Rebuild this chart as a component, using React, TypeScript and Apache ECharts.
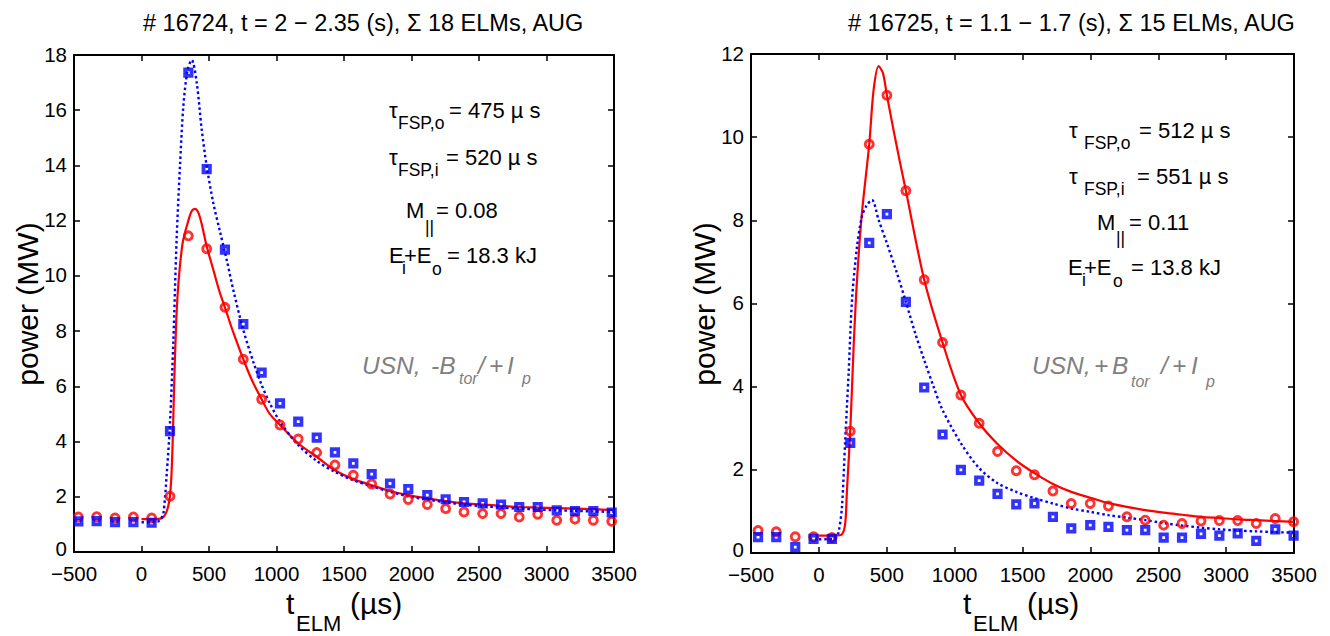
import React, { useEffect, useRef } from "react";
import * as echarts from "echarts";

// ---------- data ----------
const leftTimes = [-468, -332, -196, -60, 75, 211, 347, 483, 618, 754, 890, 1026, 1161, 1298, 1433, 1569, 1705, 1841, 1976, 2117, 2253, 2389, 2527, 2663, 2798, 2935, 3076, 3211, 3347, 3483];
const leftRedPts = [1.27, 1.28, 1.23, 1.27, 1.23, 2.02, 11.45, 10.98, 8.86, 6.98, 5.53, 4.6, 4.09, 3.6, 3.15, 2.78, 2.46, 2.1, 1.9, 1.72, 1.57, 1.45, 1.39, 1.39, 1.27, 1.37, 1.15, 1.19, 1.15, 1.11];
const leftBluePts = [1.11, 1.12, 1.08, 1.08, 1.06, 4.38, 17.36, 13.87, 10.95, 8.25, 6.5, 5.38, 4.72, 4.14, 3.61, 3.21, 2.82, 2.48, 2.28, 2.06, 1.91, 1.81, 1.76, 1.72, 1.63, 1.63, 1.51, 1.48, 1.48, 1.43];

const leftRedFitT = [0, 60, 120, 150, 175, 195, 210, 222, 231, 241, 256, 273, 305, 347, 372, 396, 420, 445, 483, 532, 581, 618, 680, 754, 820, 890, 950, 1026, 1161, 1298, 1433, 1569, 1705, 1841, 1976, 2117, 2253, 2389, 2527, 2663, 2798, 2935, 3076, 3211, 3347, 3500];
const leftRedFitV = [1.19, 1.19, 1.2, 1.22, 1.35, 1.6, 2.0, 2.8, 4.0, 5.9, 8.2, 9.7, 11.2, 12.0, 12.35, 12.43, 12.3, 11.9, 11.07, 10.22, 9.38, 8.86, 7.95, 6.98, 6.2, 5.53, 5.0, 4.6, 3.93, 3.45, 2.96, 2.64, 2.42, 2.21, 2.06, 1.94, 1.84, 1.76, 1.72, 1.67, 1.63, 1.61, 1.59, 1.57, 1.55, 1.52];

const leftBlueFitT = [0, 60, 120, 140, 162, 187, 211, 236, 260, 285, 310, 342, 372, 409, 446, 483, 532, 581, 631, 680, 754, 828, 890, 951, 1026, 1161, 1298, 1433, 1569, 1705, 1841, 1976, 2117, 2253, 2389, 2527, 2663, 2798, 2935, 3076, 3211, 3347, 3500];
const leftBlueFitV = [1.08, 1.08, 1.1, 1.18, 1.39, 2.84, 4.66, 7.68, 11.31, 13.97, 16.15, 17.48, 17.82, 17.0, 15.3, 13.97, 12.64, 11.61, 10.58, 9.49, 8.04, 6.89, 6.05, 5.38, 4.72, 3.87, 3.3, 2.9, 2.6, 2.38, 2.18, 2.02, 1.9, 1.8, 1.72, 1.66, 1.61, 1.57, 1.54, 1.51, 1.49, 1.47, 1.45];

const rightTimes = [-448, -314, -174, -39, 96, 231, 371, 501, 641, 776, 911, 1046, 1181, 1316, 1454, 1588, 1724, 1859, 1999, 2133, 2269, 2404, 2540, 2675, 2815, 2950, 3085, 3222, 3362, 3497];
const rightRedPts = [0.54, 0.51, 0.39, 0.39, 0.37, 2.93, 9.83, 11.01, 8.71, 6.57, 5.06, 3.8, 3.12, 2.44, 1.98, 1.88, 1.49, 1.19, 1.19, 1.13, 0.87, 0.79, 0.67, 0.71, 0.77, 0.78, 0.78, 0.71, 0.83, 0.75];
const rightBluePts = [0.38, 0.38, 0.14, 0.34, 0.34, 2.65, 7.46, 8.15, 6.04, 3.98, 2.85, 2.0, 1.74, 1.42, 1.17, 1.19, 0.87, 0.59, 0.67, 0.63, 0.55, 0.55, 0.37, 0.37, 0.46, 0.42, 0.47, 0.29, 0.57, 0.42];

const rightRedFitT = [0, 60, 120, 170, 194, 207, 231, 256, 281, 317, 371, 403, 440, 472, 501, 550, 599, 641, 776, 911, 1046, 1181, 1316, 1454, 1588, 1724, 1859, 1999, 2133, 2269, 2404, 2540, 2675, 2815, 2950, 3085, 3222, 3362, 3500];
const rightRedFitV = [0.42, 0.42, 0.42, 0.45, 0.71, 1.52, 2.93, 4.96, 6.57, 8.17, 9.83, 11.13, 11.71, 11.54, 11.01, 10.17, 9.37, 8.71, 6.57, 5.06, 3.8, 3.12, 2.62, 2.22, 1.92, 1.66, 1.47, 1.33, 1.2, 1.11, 1.03, 0.97, 0.92, 0.87, 0.84, 0.81, 0.79, 0.77, 0.75];

const rightBlueFitT = [0, 60, 120, 145, 170, 194, 219, 244, 281, 317, 350, 391, 440, 501, 575, 641, 710, 776, 845, 911, 1046, 1181, 1316, 1454, 1588, 1724, 1859, 1999, 2133, 2269, 2404, 2540, 2675, 2815, 2950, 3085, 3222, 3362, 3500];
const rightBlueFitV = [0.33, 0.33, 0.35, 0.5, 1.11, 2.72, 4.32, 6.08, 7.37, 8.09, 8.35, 8.49, 8.01, 7.45, 6.73, 6.04, 5.28, 4.64, 4.0, 3.44, 2.64, 2.04, 1.68, 1.47, 1.32, 1.19, 1.07, 0.99, 0.91, 0.85, 0.79, 0.72, 0.66, 0.61, 0.57, 0.54, 0.52, 0.5, 0.49];

const xMin = -500, xMax = 3500, xStep = 500;
const leftYMax = 18, rightYMax = 12, yStep = 2;

const leftTitle = "# 16724, t = 2 \u2212 2.35 (s), \u03a3 18 ELMs, AUG";
const rightTitle = "# 16725, t = 1.1 \u2212 1.7 (s), \u03a3 15 ELMs, AUG";

const FONT = "'Liberation Sans', Arial, Helvetica, sans-serif";

const zip = (a: number[], b: number[]) => a.map((v, i) => [v, b[i]]);

function txt(text: string, x: number, y: number, size: number, extra: any = {}) {
  return {
    type: "text",
    x,
    y,
    silent: true,
    rotation: extra.rotation || 0,
    style: {
      text,
      fontSize: size,
      fontFamily: FONT,
      fontStyle: extra.italic ? "italic" : "normal",
      fill: extra.color || "#000",
      align: extra.align || "left",
      verticalAlign: "middle",
    },
  };
}

function buildGraphics() {
  const g: any[] = [];
  // titles
  g.push(txt(leftTitle, 143, 23, 23.5));
  g.push(txt(rightTitle, 848, 23, 23.5));
  // axis names
  [0, 677].forEach((dx) => {
    g.push(txt("t", 286 + dx, 603, 30));
    g.push(txt("ELM", 296 + dx, 623, 22));
    g.push(txt("(\u00b5s)", 350 + dx, 603, 30));
  });
  g.push(txt("power (MW)", 27, 304, 30, { rotation: Math.PI / 2, align: "center" }));
  g.push(txt("power (MW)", 704, 304, 30, { rotation: Math.PI / 2, align: "center" }));

  // left annotations
  const M = 22, S = 17.5;
  g.push(txt("\u03c4", 389, 110.5, M));
  g.push(txt("FSP,o", 398, 123, S));
  g.push(txt("= 475 \u00b5 s", 449, 110.5, M));
  g.push(txt("\u03c4", 389, 157, M));
  g.push(txt("FSP,i", 398, 170, S));
  g.push(txt("= 520 \u00b5 s", 446, 157, M));
  g.push(txt("M", 406, 210.5, M));
  g.push(txt("||", 425, 227, S));
  g.push(txt("= 0.08", 436, 210.5, M));
  g.push(txt("E", 389, 255.5, M));
  g.push(txt("i", 402, 268, S));
  g.push(txt("+E", 404, 255.5, M));
  g.push(txt("o", 432, 269, S));
  g.push(txt("= 18.3 kJ", 447, 255.5, M));
  // left USN
  const G = "#808080";
  const GU = 24.5, GS = 16;
  g.push(txt("USN,", 362, 365, GU, { italic: true, color: G }));
  g.push(txt("-B", 431, 365, GU, { italic: true, color: G }));
  g.push(txt("tor", 459, 378, GS, { italic: true, color: G }));
  g.push(txt("/", 478, 365, GU, { italic: true, color: G }));
  g.push(txt("+", 489, 365, GU, { italic: true, color: G }));
  g.push(txt("I", 507, 365, GU, { italic: true, color: G }));
  g.push(txt("p", 522, 378, GS, { italic: true, color: G }));

  // right annotations
  g.push(txt("\u03c4", 1069, 130.5, M));
  g.push(txt("FSP,o", 1084, 143, S));
  g.push(txt("= 512 \u00b5 s", 1139, 130.5, M));
  g.push(txt("\u03c4", 1069, 176, M));
  g.push(txt("FSP,i", 1084, 189, S));
  g.push(txt("= 551 \u00b5 s", 1137, 176, M));
  g.push(txt("M", 1097, 222, M));
  g.push(txt("||", 1116, 238, S));
  g.push(txt("= 0.11", 1129, 222, M));
  g.push(txt("E", 1068, 267, M));
  g.push(txt("i", 1082, 280, S));
  g.push(txt("+E", 1084, 267, M));
  g.push(txt("o", 1113, 281, S));
  g.push(txt("= 13.8 kJ", 1131, 267, M));
  // right USN
  g.push(txt("USN,", 1032, 365, GU, { italic: true, color: G }));
  g.push(txt("+", 1094, 365, GU, { italic: true, color: G }));
  g.push(txt("B", 1112, 365, GU, { italic: true, color: G }));
  g.push(txt("tor", 1131, 381, GS, { italic: true, color: G }));
  g.push(txt("/", 1161, 365, GU, { italic: true, color: G }));
  g.push(txt("+", 1172, 365, GU, { italic: true, color: G }));
  g.push(txt("I", 1191, 365, GU, { italic: true, color: G }));
  g.push(txt("p", 1206, 381, GS, { italic: true, color: G }));
  return g;
}

const axisLine = { show: true, onZero: false, lineStyle: { color: "#000", width: 2 } };
const axisTick = { show: true, inside: true, length: 6, lineStyle: { color: "#000", width: 1.5 } };
const labelStyle = { color: "#000", fontSize: 20.5, fontFamily: FONT };
const fmt = (v: number) => String(v).replace("-", "\u2212");
const yFmt = (v: number) => (v === 0 ? "{z|0}" : String(v));

function xAxes(gridIndex: number) {
  const base = { type: "value", gridIndex, min: xMin, max: xMax, interval: xStep, splitLine: { show: false }, axisLine, axisTick };
  return [
    { ...base, position: "bottom", axisLabel: { ...labelStyle, margin: 11, lineHeight: 20, formatter: fmt } },
    { ...base, position: "top", axisLabel: { show: false } },
  ];
}
function yAxes(gridIndex: number, max: number) {
  const base = { type: "value", gridIndex, min: 0, max, interval: yStep, splitLine: { show: false }, axisLine, axisTick };
  return [
    {
      ...base, position: "left",
      axisLabel: {
        ...labelStyle, margin: 7, lineHeight: 20, padding: [0, 0, 2, 0], formatter: yFmt,
        rich: { z: { color: "#000", fontSize: 20.5, fontFamily: FONT, lineHeight: 20, padding: [0, 0, 6, 0] } },
      },
    },
    { ...base, position: "right", axisLabel: { show: false } },
  ];
}

function panelSeries(xi: number, yi: number, rT: number[], rV: number[], bT: number[], bV: number[], times: number[], rP: number[], bP: number[]) {
  return [
    {
      type: "line", xAxisIndex: xi, yAxisIndex: yi, data: zip(rT, rV), showSymbol: false, smooth: 0.3,
      lineStyle: { color: "#ff0000", width: 2.2 }, z: 2,
    },
    {
      type: "line", xAxisIndex: xi, yAxisIndex: yi, data: zip(bT, bV), showSymbol: false, smooth: 0.3,
      lineStyle: { color: "#0000ff", width: 2.4, type: [2.5, 2.8] }, z: 3,
    },
    {
      type: "scatter", xAxisIndex: xi, yAxisIndex: yi, data: zip(times, rP), symbol: "circle", symbolSize: 8,
      itemStyle: { color: "rgba(0,0,0,0)", borderColor: "#ff0000", borderWidth: 2.9 }, z: 4,
    },
    {
      type: "scatter", xAxisIndex: xi, yAxisIndex: yi, data: zip(times, bP), symbol: "rect", symbolSize: 6.5,
      itemStyle: { color: "rgba(0,0,0,0)", borderColor: "#0000ff", borderWidth: 3.7 }, z: 5,
    },
  ];
}

export default function App() {
  const ref = useRef<HTMLDivElement>(null);
  useEffect(() => {
    if (!ref.current) return;
    const chart = echarts.init(ref.current, undefined, { renderer: "svg" });
    chart.setOption({
      animation: false,
      backgroundColor: "#ffffff",
      grid: [
        { left: 74, top: 55, width: 540, height: 497 },
        { left: 751, top: 54, width: 543, height: 499 },
      ],
      xAxis: [...xAxes(0), ...xAxes(1)],
      yAxis: [...yAxes(0, leftYMax), ...yAxes(1, rightYMax)],
      series: [
        ...panelSeries(0, 0, leftRedFitT, leftRedFitV, leftBlueFitT, leftBlueFitV, leftTimes, leftRedPts, leftBluePts),
        ...panelSeries(2, 2, rightRedFitT, rightRedFitV, rightBlueFitT, rightBlueFitV, rightTimes, rightRedPts, rightBluePts),
      ],
      graphic: buildGraphics(),
    });
    return () => chart.dispose();
  }, []);
  return <div ref={ref} style={{ position: "fixed", left: 0, top: 0, width: 1330, height: 636, background: "#fff" }} />;
}
